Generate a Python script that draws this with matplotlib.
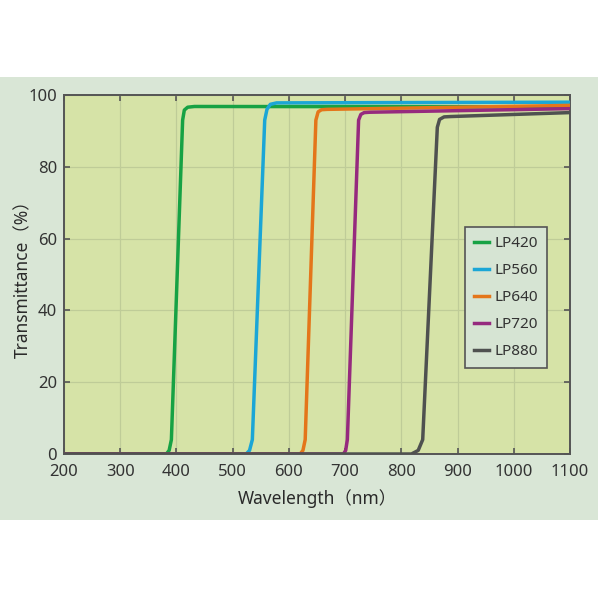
import matplotlib
matplotlib.use("Agg")
import matplotlib.pyplot as plt
from matplotlib.patches import Rectangle

plt.rcParams['font.family'] = ['Noto Sans', 'Noto Sans CJK SC', 'DejaVu Sans']

# transmission curves (wavelength nm, transmittance %)
lp420_nm = [200, 382, 387, 391, 411, 414, 420, 432, 1100]
lp420_t = [0, 0, 1, 4, 93, 95.8, 96.6, 96.8, 96.7]
lp560_nm = [200, 524, 530, 535, 557, 561, 567, 578, 1100]
lp560_t = [0, 0, 1, 4, 93, 96.0, 97.4, 97.8, 98.0]
lp640_nm = [200, 620, 625, 629, 648, 652, 658, 668, 1100]
lp640_t = [0, 0, 1, 4, 93, 95.3, 95.9, 96.0, 97.1]
lp720_nm = [200, 697, 701, 704, 724, 728, 734, 744, 1100]
lp720_t = [0, 0, 1, 4, 93, 94.6, 95.1, 95.2, 96.2]
lp880_nm = [200, 818, 830, 838, 864, 868, 876, 888, 1100]
lp880_t = [0, 0, 1, 4, 91, 93.2, 93.9, 94.0, 95.1]

labels = ["LP420", "LP560", "LP640", "LP720", "LP880"]
colors = ["#17a244", "#1ba6d6", "#e4761a", "#962a7e", "#4f5150"]
series = [(lp420_nm, lp420_t), (lp560_nm, lp560_t), (lp640_nm, lp640_t),
          (lp720_nm, lp720_t), (lp880_nm, lp880_t)]

x_ticks = [200, 300, 400, 500, 600, 700, 800, 900, 1000, 1100]
y_ticks = [0, 20, 40, 60, 80, 100]

fig = plt.figure(figsize=(6, 6), dpi=100, facecolor="white")
# light panel behind the chart
fig.patches.append(Rectangle((0, 80 / 600), 598 / 600, 443 / 600, transform=fig.transFigure,
                             facecolor="#d9e6d6", edgecolor="none", zorder=-5))

ax = fig.add_axes([64 / 600, 146 / 600, 506 / 600, 359 / 600])
ax.set_zorder(2)
ax.set_facecolor("#d6e3a7")

for (nm, t), lab, c in zip(series, labels, colors):
    ax.plot(nm, t, color=c, lw=2.5, label=lab, solid_joinstyle="round", zorder=3)

ax.set_xlim(200, 1100)
ax.set_ylim(0, 100)
ax.set_xticks(x_ticks)
ax.set_yticks(y_ticks)
ax.grid(True, color="#bfcc98", lw=0.9)
ax.set_axisbelow(True)
ax.tick_params(direction="in", top=True, right=True, length=4, width=1.2, color="#555555",
               labelsize=12, labelcolor="#333333", pad=5)
ax.tick_params(axis="x", pad=7)
for s in ax.spines.values():
    s.set_color("#555555")
    s.set_linewidth(1.4)

ax.set_xlabel("Wavelength（nm）", fontsize=12.5, color="#2a2a2a", labelpad=7)
ax.set_ylabel("Transmittance（%）", fontsize=12.5, color="#2a2a2a")
ax.yaxis.set_label_coords(-0.062, 0.5)

leg = ax.legend(loc="upper left", bbox_to_anchor=(0.792, 0.632), borderaxespad=0,
                fontsize=11, handlelength=1.0, handletextpad=0.35, labelspacing=0.78,
                frameon=True, fancybox=False, borderpad=0.6)
leg.get_frame().set_facecolor("#d6e4d3")
leg.get_frame().set_edgecolor("#555555")
leg.get_frame().set_alpha(1)
leg.get_frame().set_linewidth(1.2)
for txt in leg.get_texts():
    txt.set_color("#333333")

fig.savefig("out.png", dpi=100, facecolor="white")
